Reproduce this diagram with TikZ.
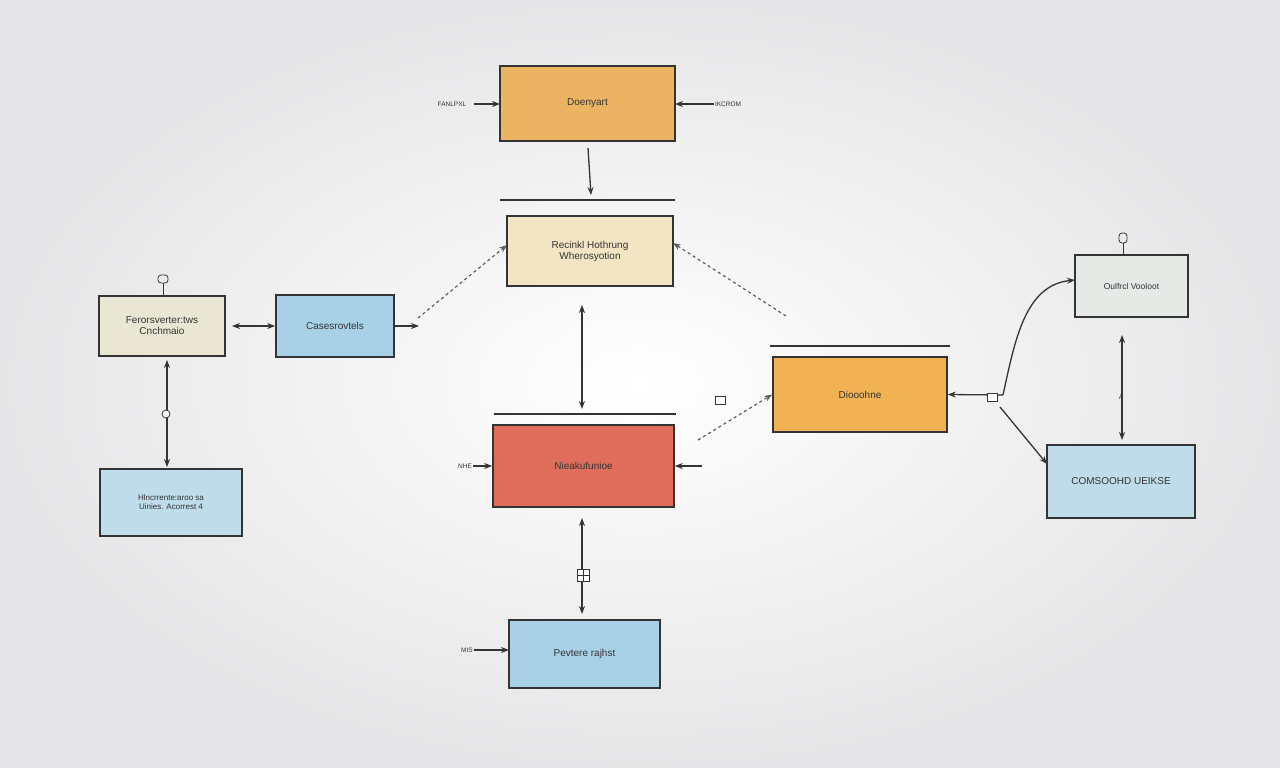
\documentclass[tikz,border=0pt]{standalone}
\usepackage{fontspec}
\setmainfont{Liberation Sans}
\usetikzlibrary{arrows.meta,shadings}
\definecolor{bgout}{HTML}{E6E6E8}
\definecolor{ink}{HTML}{343434}
\definecolor{orangeA}{HTML}{EBB362}
\definecolor{orangeB}{HTML}{F1B254}
\definecolor{beigeA}{HTML}{F3E5C4}
\definecolor{beigeB}{HTML}{E9E7D3}
\definecolor{redA}{HTML}{E06E5C}
\definecolor{blueA}{HTML}{A8D0E6}
\definecolor{blueB}{HTML}{BEDCEA}
\definecolor{grayA}{HTML}{E5EAE6}
\tikzset{
  box/.style={draw=ink, line width=1.6pt, font=\fontsize{10}{11}\selectfont, text=ink, align=center, inner sep=0pt},
  lab/.style={font=\fontsize{6.5}{7}\selectfont, text=ink, inner sep=1pt},
  conn/.style={draw=ink, line width=1.3pt, -{Stealth[length=8pt,width=6pt]}},
  dconn/.style={draw=ink, line width=1.3pt, {Stealth[length=8pt,width=6pt]}-{Stealth[length=8pt,width=6pt]}},
  dashconn/.style={draw=ink!80, line width=1.2pt, dashed, -{Stealth[length=8pt,width=6pt]}},
  bar/.style={draw=ink, line width=1.3pt}
}
\begin{document}
\begin{tikzpicture}[x=1pt,y=-1pt]
\useasboundingbox (0,0) rectangle (1280,768);
\shade[inner color=white, outer color=bgout] (0,0) rectangle (1280,768);

% boxes
\node[box, fill=orangeA, minimum width=175, minimum height=75] (top) at (587.5,103.5) {Doenyart};
\node[box, fill=beigeA, minimum width=166, minimum height=70] (mid) at (590,251) {Recinkl Hothrung\\Wherosyotion};
\node[box, fill=redA, minimum width=181, minimum height=82] (red) at (583.5,466) {Nieakufunioe};
\node[box, fill=blueA, minimum width=151, minimum height=68] (bot) at (584.5,654) {Pevtere rajhst};
\node[box, fill=beigeB, minimum width=126, minimum height=60] (lft) at (162,326) {Ferorsverter:tws\\Cnchmaio};
\node[box, fill=blueA, minimum width=118, minimum height=62] (cas) at (335,326) {Casesrovtels};
\node[box, fill=blueB, minimum width=142, minimum height=67, font=\fontsize{8}{9}\selectfont] (lb) at (171,502.5) {Hlncrrente:aroo sa\\Uinies. Acorrest 4};
\node[box, fill=orangeB, minimum width=174, minimum height=75] (dio) at (860,394.5) {Diooohne};
\node[box, fill=grayA, minimum width=113, minimum height=62, font=\fontsize{8.5}{9}\selectfont] (ou) at (1131.5,286) {Oulfrcl Vooloot};
\node[box, fill=blueB, minimum width=148, minimum height=73] (co) at (1121,481.5) {COMSOOHD UEIKSE};

% bars
\coordinate (b1a) at (500,200); \coordinate (b1b) at (675,200);
\coordinate (b2a) at (494,414); \coordinate (b2b) at (676,414);
\coordinate (b3a) at (770,346); \coordinate (b3b) at (950,346);
\draw[bar] (b1a) -- (b1b);
\draw[bar] (b2a) -- (b2b);
\draw[bar] (b3a) -- (b3b);

% small labels
\node[lab] (l1) at (452,104) {FANLPXL};
\node[lab] (l2) at (728,104) {IKCROM};
\node[lab] (l3) at (465,466) {NHE};
\node[lab] (l4) at (467,650) {MIS};

% top box connectors
\coordinate (l1e) at (474,104);
\coordinate (topW) at (500,104);
\coordinate (topE) at (675,104);
\draw[conn] (l1e) -- (topW);
\draw[conn] (l2.west) -- (topE);
\coordinate (tdA) at (588,148);
\coordinate (tdB) at (591,195);
\draw[conn] (tdA) -- (tdB);

% mid box
\coordinate (mdl) at (418,318);
\coordinate (mdr) at (786,316);
\coordinate (midL) at (507,245);
\coordinate (midR) at (673,243);
\draw[dashconn] (mdl) -- (midL);
\draw[dashconn] (mdr) -- (midR);
\coordinate (vA) at (582,305);
\coordinate (vB) at (582,409);
\draw[dconn] (vA) -- (vB);

% red box
\draw[conn] (l3.east) -- (red.west);
\coordinate (rr) at (702,466);
\draw[conn] (rr) -- (red.east);
\coordinate (v2A) at (582,518);
\coordinate (v2B) at (582,614);
\draw[dconn] (v2A) -- (v2B);
\node[draw=ink, fill=white, line width=0.8pt, minimum width=12, minimum height=12, inner sep=0pt] (ic1) at (583,575) {};
\draw[ink, line width=0.6pt] (ic1.north) -- (ic1.south) (ic1.west) -- (ic1.east);

% bottom box
\coordinate (botW) at (509,650);
\draw[conn] (l4.east) -- (botW);

% left cluster
\coordinate (le) at (232,326);
\draw[dconn] (le) -- (cas.west);
\coordinate (co1) at (419,326);
\draw[conn] (cas.east) -- (co1);
\coordinate (lv1) at (167,360);
\coordinate (lv2) at (167,467);
\draw[dconn] (lv1) -- (lv2);
\node[draw=ink, fill=white, circle, line width=0.8pt, minimum size=8, inner sep=0pt] (ic2) at (166,414) {};
\node[draw=ink, line width=0.8pt, minimum width=10, minimum height=8, inner sep=0pt, rounded corners=3pt] (ic3) at (163,279) {};
\coordinate (ic3b) at (163,296);
\draw[ink, line width=0.8pt] (ic3.south) -- (ic3b);

% right cluster
\coordinate (dl) at (698,440);
\draw[dashconn] (dl) -- (dio.west);
\node[draw=ink, fill=white, line width=0.7pt, minimum width=10, minimum height=8, inner sep=0pt] (ic4) at (720,400) {};
\coordinate (dr) at (1003,395);
\draw[conn] (dr) -- (dio.east);
\node[draw=ink, fill=white, line width=0.7pt, minimum width=10, minimum height=8, inner sep=0pt] (ic5) at (992,397) {};
\coordinate (ouL) at (1075,280);
\draw[conn] (dr) .. controls (1015,340) and (1025,285) .. (ouL);
\coordinate (dr2) at (1000,407);
\coordinate (coL) at (1047,464);
\draw[conn] (dr2) -- (coL);
\coordinate (rv1) at (1122,335);
\coordinate (rv2) at (1122,440);
\draw[dconn] (rv1) -- (rv2);
\node[lab] (rvl) at (1121,397) {A};
\node[draw=ink, line width=0.8pt, minimum width=8, minimum height=10, inner sep=0pt, rounded corners=3pt] (ic6) at (1123,238) {};
\coordinate (ic6b) at (1123,255);
\draw[ink, line width=0.8pt] (ic6.south) -- (ic6b);
\end{tikzpicture}
\end{document}
